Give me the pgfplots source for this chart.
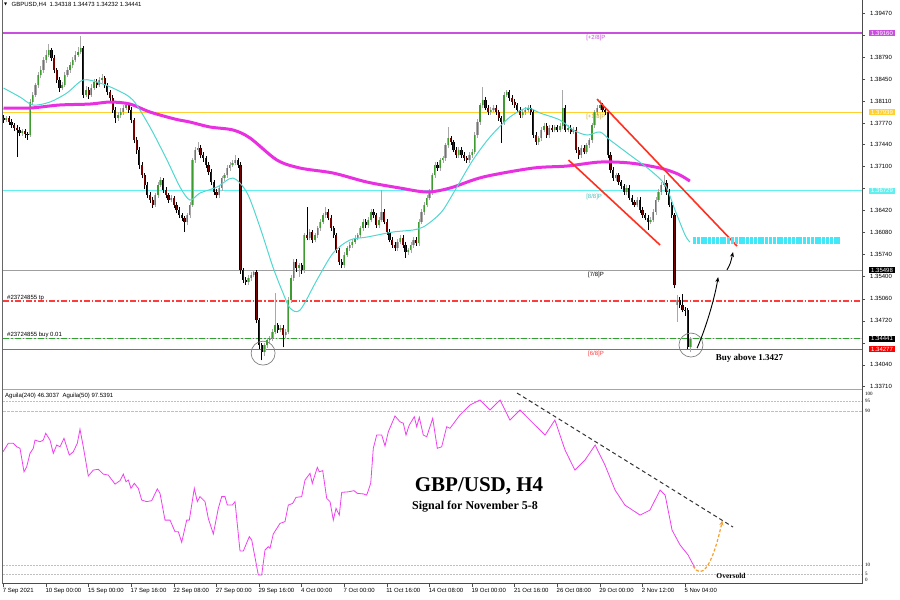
\documentclass[border=0pt]{standalone}
\usepackage{fontspec}
\setmainfont{Liberation Sans}
\newfontfamily\serif{Liberation Serif}
\newfontfamily\djv{DejaVu Sans}
\usepackage{pgfplots}
\pgfplotsset{compat=1.18}
\usepackage{pgfplotstable}
\usetikzlibrary{arrows.meta}

\definecolor{bull}{HTML}{3E9B30}
\definecolor{bear}{HTML}{7A0000}
\definecolor{wickup}{HTML}{A8A8A8}
\definecolor{ma200}{HTML}{E830E0}
\definecolor{ma20}{HTML}{50D8D0}
\definecolor{lvlpurple}{RGB}{200,80,220}
\definecolor{myellow}{HTML}{FFD030}
\definecolor{mcyan}{HTML}{60F0F0}
\definecolor{lvlred}{RGB}{255,60,60}
\definecolor{mgreen}{HTML}{30A030}
\definecolor{chan}{HTML}{FF3020}
\definecolor{band}{HTML}{40E8F8}
\definecolor{agu}{HTML}{F040F0}
\definecolor{orng}{HTML}{F5A030}

\newcommand{\mt}{\fontsize{6}{7}\selectfont}
\tikzset{pbox/.style={anchor=west, text=white, font=\mt, inner xsep=2pt, inner ysep=0.8pt,
    text height=4.3pt, text depth=0pt, xshift=7pt}}

% GBPUSD H4 candles, prices in pips above 1.0000 (3444 = 1.3444)
\pgfplotstableread{
i o h l c
0 3786 3790 3778 3782
1 3782 3789 3779 3785
2 3785 3788 3775 3779
3 3779 3783 3770 3774
4 3774 3777 3765 3770
5 3770 3774 3725 3767
6 3767 3771 3757 3762
7 3762 3769 3758 3765
8 3765 3768 3755 3760
9 3760 3764 3752 3759
10 3759 3814 3756 3810
11 3810 3826 3806 3821
12 3821 3840 3817 3836
13 3836 3856 3832 3852
14 3852 3866 3847 3859
15 3859 3880 3855 3875
16 3875 3890 3870 3883
17 3883 3899 3879 3890
18 3890 3894 3873 3878
19 3878 3882 3854 3859
20 3859 3863 3840 3844
21 3844 3848 3826 3832
22 3832 3841 3828 3836
23 3836 3857 3833 3852
24 3852 3864 3848 3859
25 3859 3871 3855 3867
26 3867 3880 3862 3875
27 3875 3888 3871 3883
28 3883 3895 3879 3887
29 3887 3912 3884 3893
30 3893 3897 3816 3821
31 3821 3834 3817 3829
32 3829 3833 3815 3821
33 3821 3837 3818 3832
34 3832 3846 3829 3841
35 3841 3845 3831 3836
36 3836 3849 3833 3844
37 3844 3853 3840 3847
38 3847 3850 3831 3836
39 3836 3839 3820 3825
40 3825 3829 3811 3816
41 3816 3820 3793 3798
42 3798 3802 3778 3785
43 3785 3794 3781 3790
44 3790 3800 3786 3795
45 3795 3805 3790 3801
46 3801 3810 3797 3805
47 3805 3808 3793 3798
48 3798 3802 3777 3782
49 3782 3786 3746 3751
50 3751 3756 3730 3736
51 3736 3740 3707 3713
52 3713 3718 3692 3697
53 3697 3701 3676 3682
54 3682 3686 3661 3666
55 3666 3671 3654 3659
56 3659 3663 3646 3651
57 3651 3670 3648 3666
58 3666 3686 3662 3682
59 3682 3694 3678 3689
60 3689 3693 3669 3674
61 3674 3678 3661 3666
62 3666 3670 3654 3659
63 3659 3666 3655 3662
64 3662 3665 3646 3651
65 3651 3655 3638 3643
66 3643 3647 3630 3635
67 3635 3639 3626 3631
68 3631 3634 3609 3625
69 3625 3639 3620 3635
70 3635 3655 3631 3651
71 3651 3724 3648 3720
72 3720 3740 3716 3736
73 3736 3748 3732 3739
74 3739 3743 3723 3728
75 3728 3732 3718 3723
76 3723 3727 3708 3713
77 3713 3717 3697 3702
78 3702 3706 3681 3686
79 3686 3690 3666 3671
80 3671 3675 3661 3666
81 3666 3681 3662 3677
82 3677 3696 3673 3692
83 3692 3701 3688 3697
84 3697 3712 3693 3708
85 3708 3717 3704 3713
86 3713 3720 3709 3716
87 3716 3728 3712 3720
88 3720 3724 3708 3713
89 3713 3717 3545 3550
90 3550 3554 3530 3535
91 3535 3540 3527 3532
92 3532 3542 3528 3538
93 3538 3547 3534 3543
94 3543 3551 3539 3547
95 3547 3551 3468 3473
96 3473 3477 3429 3434
97 3434 3438 3411 3424
98 3424 3438 3418 3434
99 3434 3446 3430 3442
100 3442 3449 3437 3445
101 3445 3459 3441 3455
102 3455 3515 3451 3465
103 3465 3469 3453 3458
104 3458 3465 3454 3461
105 3461 3465 3431 3450
106 3450 3459 3446 3455
107 3455 3508 3451 3504
108 3504 3542 3500 3538
109 3538 3567 3534 3563
110 3563 3567 3548 3553
111 3553 3562 3540 3558
112 3558 3562 3545 3550
113 3550 3608 3546 3604
114 3604 3648 3596 3600
115 3600 3613 3596 3609
116 3609 3612 3592 3597
117 3597 3608 3593 3604
118 3604 3619 3600 3615
119 3615 3629 3611 3625
120 3625 3639 3621 3635
121 3635 3648 3631 3640
122 3640 3644 3627 3631
123 3631 3635 3611 3615
124 3615 3619 3600 3604
125 3604 3608 3577 3581
126 3581 3585 3558 3563
127 3563 3567 3553 3558
128 3558 3578 3554 3574
129 3574 3588 3570 3584
130 3584 3593 3580 3589
131 3589 3598 3585 3594
132 3594 3604 3590 3600
133 3600 3608 3596 3604
134 3604 3619 3600 3615
135 3615 3629 3611 3625
136 3625 3629 3616 3620
137 3620 3632 3616 3628
138 3628 3644 3624 3640
139 3640 3644 3631 3635
140 3635 3639 3616 3620
141 3620 3632 3616 3628
142 3628 3674 3624 3640
143 3640 3644 3621 3625
144 3625 3629 3605 3609
145 3609 3613 3593 3597
146 3597 3601 3585 3589
147 3589 3593 3580 3584
148 3584 3598 3580 3594
149 3594 3604 3590 3600
150 3600 3604 3585 3589
151 3589 3593 3569 3578
152 3578 3585 3574 3581
153 3581 3593 3577 3589
154 3589 3601 3585 3597
155 3597 3601 3588 3592
156 3592 3629 3588 3625
157 3625 3644 3621 3640
158 3640 3655 3636 3651
159 3651 3666 3647 3662
160 3662 3675 3658 3671
161 3671 3701 3667 3697
162 3697 3717 3693 3713
163 3713 3717 3704 3708
164 3708 3724 3704 3720
165 3720 3727 3716 3723
166 3723 3747 3719 3743
167 3743 3771 3739 3754
168 3754 3758 3744 3748
169 3748 3752 3732 3736
170 3736 3740 3724 3728
171 3728 3740 3724 3736
172 3736 3740 3724 3728
173 3728 3732 3719 3723
174 3723 3727 3716 3720
175 3720 3732 3716 3728
176 3728 3737 3724 3733
177 3733 3763 3729 3759
178 3759 3783 3755 3779
179 3779 3809 3775 3805
180 3805 3833 3801 3813
181 3813 3817 3797 3801
182 3801 3805 3790 3794
183 3794 3802 3790 3798
184 3798 3805 3794 3801
185 3801 3805 3790 3794
186 3794 3798 3781 3785
187 3785 3789 3747 3779
188 3779 3825 3775 3821
189 3821 3829 3817 3825
190 3825 3829 3812 3816
191 3816 3820 3806 3810
192 3810 3814 3801 3805
193 3805 3809 3794 3798
194 3798 3802 3786 3790
195 3790 3798 3786 3794
196 3794 3802 3790 3798
197 3798 3805 3794 3801
198 3801 3805 3790 3794
199 3794 3798 3754 3759
200 3759 3763 3744 3748
201 3748 3758 3744 3754
202 3754 3771 3750 3767
203 3767 3777 3763 3773
204 3773 3777 3755 3759
205 3759 3774 3755 3770
206 3770 3774 3763 3767
207 3767 3775 3763 3771
208 3771 3775 3763 3767
209 3767 3777 3763 3773
210 3773 3828 3769 3801
211 3801 3805 3763 3767
212 3767 3774 3763 3770
213 3770 3774 3760 3764
214 3764 3771 3760 3767
215 3767 3771 3731 3736
216 3736 3740 3722 3728
217 3728 3743 3724 3739
218 3739 3743 3729 3733
219 3733 3747 3729 3743
220 3743 3755 3739 3751
221 3751 3778 3747 3774
222 3774 3798 3770 3794
223 3794 3806 3790 3801
224 3801 3813 3797 3805
225 3805 3809 3794 3798
226 3798 3802 3790 3794
227 3794 3798 3723 3728
228 3728 3732 3700 3705
229 3705 3709 3688 3692
230 3692 3701 3688 3697
231 3697 3701 3682 3686
232 3686 3690 3676 3680
233 3680 3684 3667 3671
234 3671 3681 3667 3677
235 3677 3681 3658 3662
236 3662 3666 3651 3655
237 3655 3659 3647 3651
238 3651 3663 3647 3659
239 3659 3663 3639 3643
240 3643 3647 3631 3635
241 3635 3639 3627 3631
242 3631 3635 3612 3625
243 3625 3632 3621 3628
244 3628 3644 3624 3640
245 3640 3663 3636 3659
246 3659 3675 3655 3671
247 3671 3686 3667 3682
248 3682 3697 3678 3685
249 3685 3689 3667 3671
250 3671 3675 3647 3651
251 3651 3655 3631 3635
252 3635 3639 3522 3527
253 3497 3512 3470 3504
254 3504 3508 3492 3496
255 3496 3514 3485 3489
256 3489 3493 3480 3488
257 3488 3491 3428 3432
258 3432 3447 3423 3444
}\candles

\begin{document}
\begin{tikzpicture}
\path[use as bounding box, fill=white] (0,0) rectangle (900pt,600pt);

% ---------------- price panel ----------------
\begin{axis}[
  at={(3pt,211pt)}, anchor=south west,
  scale only axis, width=859pt, height=384pt,
  xmin=-0.19, xmax=322.44, ymin=3366.6, ymax=3959.8,
  axis line style={draw=none},
  xtick=\empty,
  ytick={3371,3404,3438,3472,3506,3540,3574,3608,3642,3676,3710,3744,3777,3811,3845,3879,3913,3947},
  yticklabels={1.33710,1.34040,,1.34720,1.35060,1.35400,1.35740,1.36080,1.36420,,1.37100,1.37440,1.37770,1.38110,1.38450,1.38790,,1.39470},
  ytick pos=right, yticklabel pos=right,
  tick align=outside, major tick length=3pt,
  tick style={black!70, line width=0.5pt},
  yticklabel style={font=\mt, anchor=west, inner sep=0pt, xshift=5pt},
  clip mode=individual,
]
% Murrey levels and order lines
\addplot[draw=lvlpurple, line width=1.8pt] coordinates {(-0.19,3916) (322.44,3916)};
\addplot[draw=myellow, line width=0.9pt] coordinates {(-0.19,3793.9) (322.44,3793.9)};
\addplot[draw=mcyan, line width=0.9pt] coordinates {(-0.19,3672.9) (322.44,3672.9)};
\addplot[draw=gray!75, line width=1.5pt] coordinates {(-0.19,3549.8) (322.44,3549.8)};
\addplot[draw=lvlred, line width=1.1pt, dash pattern=on 6pt off 2pt on 1.5pt off 2pt] coordinates {(-0.19,3502.5) (322.44,3502.5)};
\addplot[draw=gray!35, line width=0.9pt] coordinates {(-0.19,3444.1) (322.44,3444.1)};
\addplot[draw=mgreen, line width=0.9pt, dash pattern=on 6pt off 2pt on 1.5pt off 2pt] coordinates {(-0.19,3444.1) (322.44,3444.1)};
\addplot[draw=lvlred, line width=1.6pt] coordinates {(-0.19,3427.6) (322.44,3427.6)};

\node[anchor=west, inner sep=0pt, font=\mt, text=lvlpurple] at (axis cs:218.8,3909) {[+2/8]P};
\node[anchor=west, inner sep=0pt, font=\mt, text=myellow!80!black] at (axis cs:218.8,3786.7) {[+1/8]P};
\node[anchor=west, inner sep=0pt, font=\mt, text=mcyan!80!black] at (axis cs:218.8,3663) {[8/8]P};
\node[anchor=west, inner sep=0pt, font=\mt] at (axis cs:219.5,3543) {[7/8]P};
\node[anchor=west, inner sep=0pt, font=\mt, text=lvlred] at (axis cs:219.5,3421) {[6/8]P};

% candles: wicks
\addplot[wickup, line width=0.6pt, quiver={u=0, v=\thisrow{h}-\thisrow{l}},
  restrict expr to domain={\thisrow{c}-\thisrow{o}}{0:1000}] table[x=i, y=l] {\candles};
\addplot[black, line width=0.6pt, quiver={u=0, v=\thisrow{h}-\thisrow{l}},
  restrict expr to domain={\thisrow{c}-\thisrow{o}}{-1000:-0.01}] table[x=i, y=l] {\candles};
% candles: bodies
\addplot[wickup, line width=2.2pt, quiver={u=0, v=\thisrow{c}-\thisrow{o}},
  restrict expr to domain={\thisrow{c}-\thisrow{o}}{0:1000}] table[x=i, y=o] {\candles};
\addplot[bull, line width=1.2pt, quiver={u=0, v=\thisrow{c}-\thisrow{o}},
  restrict expr to domain={\thisrow{c}-\thisrow{o}}{0:1000}] table[x=i, y=o] {\candles};
\addplot[black, line width=2.2pt, quiver={u=0, v=\thisrow{c}-\thisrow{o}},
  restrict expr to domain={\thisrow{c}-\thisrow{o}}{-1000:-0.01}] table[x=i, y=o] {\candles};
\addplot[bear, line width=1.2pt, quiver={u=0, v=\thisrow{c}-\thisrow{o}},
  restrict expr to domain={\thisrow{c}-\thisrow{o}}{-1000:-0.01}] table[x=i, y=o] {\candles};

% moving averages
\addplot[ma200, line width=3pt, smooth] coordinates {
(0,3800.6) (10,3800.6) (21,3805.3) (32.5,3806.8) (40,3809.9) (47.5,3806.8)
(55,3794.5) (64.4,3783.6) (70,3779) (77.6,3771.3) (86.2,3766.7) (92.6,3754.3)
(102.7,3720.3) (111.4,3707.9) (123.8,3700.2) (136.5,3686.3) (149,3677)
(159,3670.9) (167.7,3677) (180.1,3694) (198.9,3707.9) (211.6,3711)
(224,3717.2) (235.3,3715.7) (246.6,3707.9) (253.3,3698.7) (257.8,3687.8)};
\addplot[ma20, line width=1pt, smooth] coordinates {
(0,3831.5) (6.2,3817.6) (11.1,3805.3) (17.5,3810) (23.8,3823.8) (29.9,3843.9)
(36.2,3839.3) (42.6,3828.5) (48.6,3813) (55,3771.3) (61.4,3720.3) (66.3,3678.6)
(70,3658.5) (73.8,3669.3) (80.2,3678.6) (86.2,3692.5) (91.5,3669.3)
(96.3,3616.8) (101.2,3555) (105,3514.8) (107.6,3491.7) (111.4,3488.6)
(117.7,3534.9) (123.8,3576.6) (130.1,3596.7) (136.5,3601.3) (146.3,3609.1)
(153.8,3612.2) (157.6,3616.8) (161.3,3627.6) (165.1,3643.1) (170.3,3678.6)
(176.3,3720.3) (182.7,3755.8) (190.2,3786.7) (196.6,3800.6) (201.5,3792.9)
(209,3782.1) (213.9,3766.7) (219.2,3758.9) (224,3763.6) (227.8,3751.2)
(235.3,3728) (242.8,3704.9) (248.5,3681.7) (252.2,3643.1) (256,3604.4)
(257.8,3593.6)};

% channel and target band
\addplot[chan, line width=1.6pt] coordinates {(222.9,3814.5) (275.5,3587.4)};
\addplot[chan, line width=1.6pt] coordinates {(212.2,3720.3) (246.6,3589)};
\addplot[band, line width=7pt, dash pattern=on 3pt off 0.8pt] coordinates {(259,3596.7) (314.2,3596.7)};

\draw[gray, line width=0.7pt] (axis cs:97.5,3422) circle[radius=12pt];
\draw[gray, line width=0.7pt] (axis cs:258.2,3434.5) circle[radius=12pt];
\draw[black, line width=0.9pt, -{Stealth[length=5pt,width=4pt]}]
  (axis cs:260.5,3429.8) .. controls (axis cs:263.5,3457.7) and (axis cs:267,3504) .. (axis cs:268.4,3539.5);
\draw[black, line width=0.9pt, -{Stealth[length=5pt,width=4pt]}]
  (axis cs:271.7,3550.4) .. controls (axis cs:273,3560) .. (axis cs:274,3578.2);

% price boxes on the scale
\node[pbox, fill=lvlpurple] at (axis cs:322.44,3916) {1.39160};
\node[pbox, fill=myellow] at (axis cs:322.44,3793.9) {1.37939};
\node[pbox, fill=mcyan] at (axis cs:322.44,3672.9) {1.36729};
\node[pbox, fill=black] at (axis cs:322.44,3549.8) {1.35498};
\node[pbox, fill=black] at (axis cs:322.44,3444.1) {1.34441};
\node[pbox, fill=red] at (axis cs:322.44,3427.7) {1.34277};
\end{axis}

% ---------------- oscillator panel ----------------
\begin{axis}[
  at={(3pt,16pt)}, anchor=south west,
  scale only axis, width=859pt, height=194pt,
  xmin=-0.19, xmax=322.44, ymin=0, ymax=100.8,
  axis line style={draw=none},
  ytick=\empty,
  xtick={0,16,...,256},
  xticklabels={7 Sep 2021,10 Sep 00:00,15 Sep 00:00,17 Sep 16:00,22 Sep 08:00,27 Sep 00:00,29 Sep 16:00,4 Oct 00:00,7 Oct 00:00,11 Oct 16:00,14 Oct 08:00,19 Oct 00:00,21 Oct 16:00,26 Oct 08:00,29 Oct 00:00,2 Nov 12:00,5 Nov 04:00},
  xtick pos=bottom, tick align=outside, major tick length=3pt,
  tick style={black!70, line width=0.5pt},
  xticklabel style={font=\mt, anchor=north west, inner sep=0pt, xshift=-0.8pt, yshift=-1pt},
  clip mode=individual,
]
\addplot[gray!50, line width=0.5pt, dash pattern=on 1.5pt off 1.5pt] coordinates {(-0.19,95) (322.44,95)};
\addplot[gray!50, line width=0.5pt, dash pattern=on 2.5pt off 1.5pt] coordinates {(-0.19,90) (322.44,90)};
\addplot[gray!50, line width=0.5pt, dash pattern=on 1.5pt off 1.5pt] coordinates {(-0.19,10) (322.44,10)};
\addplot[gray!50, line width=0.5pt, dash pattern=on 1.5pt off 1.5pt] coordinates {(-0.19,5) (322.44,5)};

\addplot[agu, line width=0.8pt] coordinates {
(-0.19,68.7) (1.8,73.1) (3.68,73.1) (4.96,71.3) (6.2,70.5) (7.7,58.3) (8.71,60.9)
(9.95,67.9) (11.19,70.5) (11.83,74.8) (13.71,73.9) (14.95,74.8) (15.85,78.3)
(17.46,74.8) (18.7,67.9) (19.98,72.2) (21.22,71.3) (22.72,75.7) (24.71,67)
(26.22,68.7) (27.72,73.1) (28.73,80.4) (29.97,71.3) (31.85,56.1) (33.73,59.2)
(35.61,59.6) (37.48,57.1) (39.36,56.6) (41.88,51.9) (43.76,53.7) (45,57.1)
(46.01,53.1) (46.87,54) (47.89,49.7) (49.13,52.3) (50.63,49.7) (51.91,43.6)
(53.78,42.8) (55.66,43.3) (57.77,49.4) (58.78,47.1) (60.66,33.2) (62.54,33.2)
(64.41,27.2) (65.65,27.2) (66.93,21.7) (68.81,33.2) (69.79,33.2) (71.66,49.7)
(72.79,42.8) (73.8,45.4) (75.68,42.8) (76.92,34.1) (78.8,26) (80.68,39.3)
(81.95,45.4) (83.19,45.4) (84.06,41) (85.93,41) (86.95,42.8) (88.83,17.1)
(90.07,17.1) (92.32,24.6) (93.22,22.9) (95.7,4.7) (96.98,4.7) (98.22,17.7)
(99.46,19.4) (100.09,18.5) (101.33,26) (103.85,31.5) (105.73,32.4) (106.97,41)
(108.62,41.9) (109.86,45) (112,45.4) (113.24,54) (115.12,57.5) (115.98,52.3)
(117.86,60.6) (118.61,58.3) (119.89,58.9) (121.39,44.5) (122.63,42.8)
(123.87,33.2) (124.88,39.3) (126.12,35.8) (127.02,47.6) (129.5,47.9)
(131.64,48.5) (132.88,47.1) (135.14,46.8) (136.41,46.2) (137.92,52.3)
(138.89,70.5) (140.17,77.4) (142.05,77.4) (143.29,71.7) (144.53,79.1)
(147.04,87.3) (148.92,84.3) (150.16,83.5) (151.17,77.4) (152.41,82.6)
(154.29,86.9) (155.19,81.7) (156.17,86.6) (157.67,77.4) (158.95,76.5)
(161.2,86.1) (162.93,70.5) (164.58,71.3) (166.46,81.7) (167.7,80.9)
(171.4,87.8) (175.2,93) (179,95.6) (182.7,90.4) (186.5,95.6) (190.2,85.2)
(194,90.4) (197.7,85.2) (203.4,77.4) (207.1,85.2) (210.9,69.6) (214.6,59.2)
(218.4,64.4) (222.2,72.2) (225.9,61.8) (229.7,48.8) (233.4,41) (239.1,35.8)
(242.8,38.4) (246.6,48.8) (248.5,46.2) (251.1,28) (254.1,20.3) (257.1,15.1)
(259.7,8.3)};

\addplot[black!80, line width=1pt, dash pattern=on 4pt off 3pt] coordinates {(192.9,99.2) (274,29.6)};
\draw[orng, line width=1.2pt, dash pattern=on 3pt off 2pt, -{Stealth[length=5pt,width=4pt]}]
  (axis cs:259,9.4) .. controls (axis cs:262,2) and (axis cs:266,8) .. (axis cs:270,33);
\end{axis}

% frame
\draw[black!60, line width=0.8pt] (2.5pt,16pt) -- (2.5pt,600pt);
\draw[black!70, line width=1pt] (862pt,16pt) -- (862pt,600pt);
\draw[gray!70, line width=1.5pt] (3pt,210.5pt) -- (862pt,210.5pt);
\draw[black!70, line width=1pt] (3pt,16pt) -- (862pt,16pt);

% headers
\node[anchor=west, inner sep=0pt, font=\djv\fontsize{4}{5}\selectfont] at (4pt,595.5pt) {▼};
\node[anchor=west, inner sep=0pt, font=\mt] at (11.5pt,595.5pt) {GBPUSD,H4\ \ 1.34318 1.34473 1.34232 1.34441};
\node[anchor=west, inner sep=0pt, font=\mt] at (5pt,204pt) {Aguila(240) 46.3037\ \ Aguila(50) 97.5391};
\node[anchor=west, inner sep=0pt, font=\mt] at (7pt,302pt) {\#23724855 tp};
\node[anchor=west, inner sep=0pt, font=\mt] at (7pt,265pt) {\#23724855 buy 0.01};

% oscillator scale
\foreach \yy/\t in {206/100, 199.5/95, 189.5/90, 35/10, 26/5, 20/0}{
  \node[anchor=west, inner sep=0pt, font=\serif\fontsize{5}{6}\selectfont] at (865pt,\yy pt) {\t};
}

% annotations
\node[font=\serif\bfseries\fontsize{9}{10}\selectfont] at (749.5pt,242pt) {Buy above 1.3427};
\node[font=\serif\bfseries\fontsize{21}{24}\selectfont] at (479pt,114pt) {GBP/USD, H4};
\node[font=\serif\bfseries\fontsize{12}{14}\selectfont] at (475pt,93pt) {Signal for November 5-8};
\node[font=\serif\bfseries\fontsize{7.5}{9}\selectfont] at (731pt,24pt) {Oversold};
\end{tikzpicture}
\end{document}
